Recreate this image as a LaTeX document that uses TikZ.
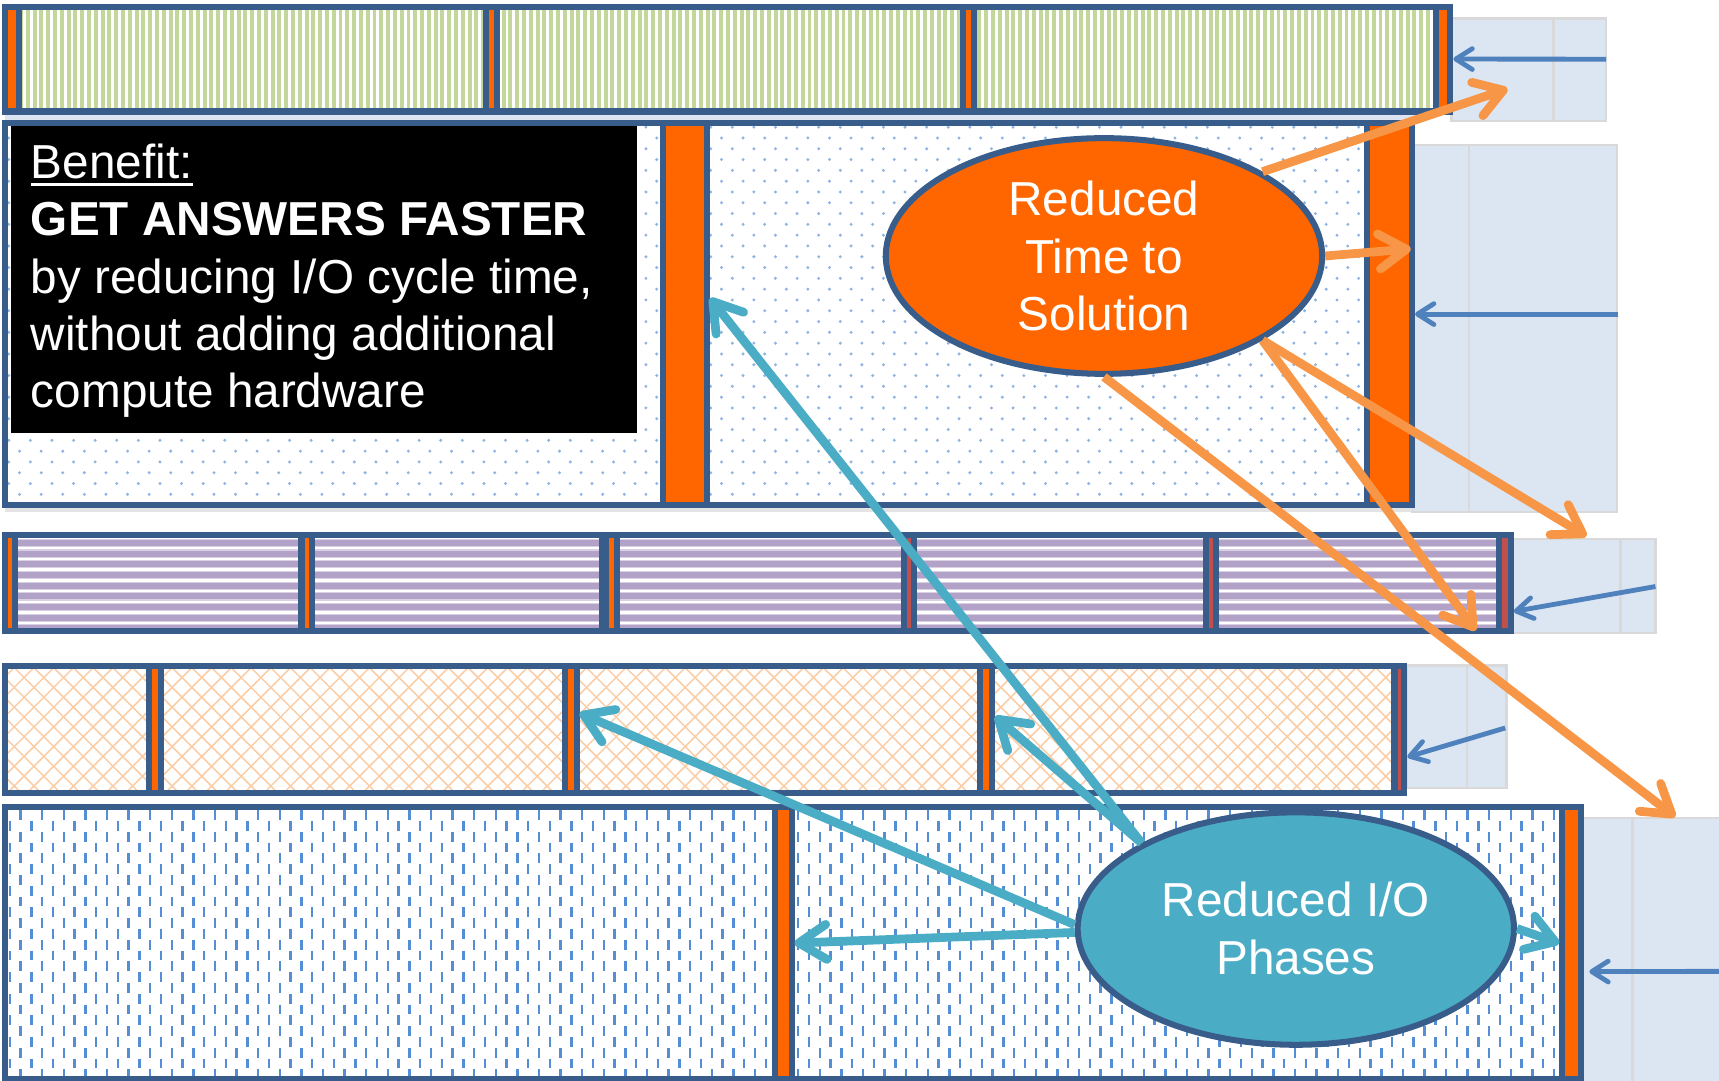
\documentclass[tikz,border=0pt]{standalone}
\usepackage{fontspec}
\setmainfont{Liberation Sans}
\usepackage{xcolor}
\usetikzlibrary{arrows.meta,shapes.geometric}
\definecolor{rowblue}{RGB}{56,93,138}
\definecolor{barorange}{RGB}{255,102,0}
\definecolor{barred}{RGB}{192,80,77}
\definecolor{arroworange}{RGB}{247,150,70}
\definecolor{arrowteal}{RGB}{75,172,198}
\definecolor{arrowblue}{RGB}{79,129,189}
\definecolor{extfill}{RGB}{220,230,242}
\definecolor{extline}{RGB}{217,217,217}
\definecolor{stripegreen}{RGB}{195,214,155}
\definecolor{stripepurple}{RGB}{179,162,199}
\definecolor{hatchorange}{RGB}{251,205,165}
\definecolor{dotblue}{RGB}{142,180,227}
\definecolor{dashblue}{RGB}{85,142,213}
\newcommand\benul[1]{\setbox0\hbox{#1}\rlap{\rule[-7pt]{\wd0}{2.6pt}}\box0}

\begin{document}
\begin{tikzpicture}[x=1pt,y=-1pt,
   cell/.style={draw=rowblue,line width=5.5pt},
   bar/.style={cell,fill=barorange,inner sep=0pt},
   ext/.style={fill=extfill,draw=extline,line width=2.2pt},
   bubble/.style={ellipse,draw=rowblue,line width=5.5pt,inner sep=0pt,text=white,
                  align=center,font=\fontsize{43.5}{52.3}\selectfont},
   oarrow/.style={draw=arroworange,line width=8pt,-{Straight Barb[length=25pt,width=32pt,round]}},
   tarrow/.style={draw=arrowteal,line width=8pt,-{Straight Barb[length=25pt,width=32pt,round]}},
   barrow/.style={draw=arrowblue,line width=4.4pt,-{Straight Barb[length=15pt,width=19pt,round]}}]
  \useasboundingbox (0,0) rectangle (1568,986);
  \clip (0,0) rectangle (1568,986);

  % cells to the right of each row
  \draw[ext] (1324,17) rectangle (1417,110.5);  \draw[ext] (1417,17) rectangle (1465,110.5);
  \draw[ext] (1288,132) rectangle (1340,467);   \draw[ext] (1340,132) rectangle (1475,467);
  \draw[ext] (1380,491.5) rectangle (1478,577.5); \draw[ext] (1478,491.5) rectangle (1510,577.5);
  \draw[ext] (1283,607) rectangle (1338,719);   \draw[ext] (1338,607) rectangle (1374,719);
  \draw[ext] (1444,746) rectangle (1489,992);   \draw[ext] (1489,746) rectangle (1580,992);
  \fill[extfill] (5,102) rectangle (1300,110);
  \fill[extline!70] (5,462) rectangle (1288,467);

  % row A, green stripes
  \begin{scope}
    \clip (5,6) rectangle (1323,101.7);
    \foreach \x in {5,11.2,...,1325}
      \fill[stripegreen] (\x,6) rectangle ++(3.6,96);
  \end{scope}
  \foreach \a/\b in {17/443,453/878,888/1310} \draw[cell] (\a,6) rectangle (\b,101.7);
  \foreach \a/\b [count=\i] in {5/17,443/453,878/888,1310/1323}
    \node[bar,minimum width=\b-\a,minimum height=95.7] (a\i) at ({(\a+\b)/2},53.85) {};

  % row B, dots
  \begin{scope}
    \clip (5,112) rectangle (1288,461);
    \foreach \y [count=\j] in {116,125.85,...,462}
      \foreach \x in {8,27.7,...,1290}
        \fill[dotblue] ({\x+mod(\j,2)*9.85},\y) circle (1.5);
  \end{scope}
  \foreach \a/\b in {5/605,645/1247} \draw[cell] (\a,112) rectangle (\b,461);
  \foreach \a/\b [count=\i] in {605/645,1247/1288}
    \node[bar,minimum width=\b-\a,minimum height=349] (b\i) at ({(\a+\b)/2},286.5) {};
  \fill[black] (10,114.5) rectangle (581,395);
  \node[anchor=north west,inner sep=0pt,align=left,text=white,
        font=\fontsize{43.5}{52.3}\selectfont] (benefit) at (28,131.2)
    {\benul{Benefit:}\\\textbf{GET ANSWERS FASTER}\\by reducing I/O cycle time,\\without adding additional\\compute hardware};

  % row C, purple stripes
  \begin{scope}
    \clip (5,488) rectangle (1378,575.5);
    \foreach \y in {485.5,495.25,...,582}
      {\fill[stripepurple!50] (5,\y-3.8) rectangle (1378,\y+3.8);
       \fill[stripepurple] (5,\y-2.8) rectangle (1378,\y+2.8);}
  \end{scope}
  \foreach \a/\b in {14/275,285/549,563/825,834/1100,1109/1367} \draw[cell] (\a,488) rectangle (\b,575.5);
  \foreach \a/\b/\c [count=\i] in {5/14/barorange,275/285/barorange,553/563/barorange,
                                  825/834/barred,1100/1109/barred,1367/1378/barred}
    \node[bar,fill=\c,minimum width=\b-\a,minimum height=87.5] (c\i) at ({(\a+\b)/2},531.75) {};

  % row D, diagonal cross hatch
  \begin{scope}
    \clip (5,607.5) rectangle (1281,723.5);
    \foreach \c in {-140,-122,...,1430}
      \draw[hatchorange,line width=1.4pt] (\c,600) -- ++(130,130) (\c,600) -- ++(-130,130);
  \end{scope}
  \foreach \a/\b in {5/136,147/515,526/894,905/1272} \draw[cell] (\a,607.5) rectangle (\b,723.5);
  \foreach \a/\b/\c [count=\i] in {136/147/barorange,515/526/barorange,894/905/barorange,1272/1281/barred}
    \node[bar,fill=\c,minimum width=\b-\a,minimum height=116] (d\i) at ({(\a+\b)/2},665.5) {};

  % row E, dashed vertical
  \begin{scope}
    \clip (5,736.5) rectangle (1442,984);
    \foreach \x [count=\i] in {9,18.85,...,1445}
      {\pgfmathsetmacro\ph{mod(\i,2)*9.85}
       \draw[dashblue,line width=2.2pt,dash pattern=on 9pt off 10.7pt,dash phase=\ph pt] (\x,739) -- (\x,990);}
  \end{scope}
  \foreach \a/\b in {5/707,722/1425} \draw[cell] (\a,736.5) rectangle (\b,984);
  \foreach \a/\b [count=\i] in {707/722,1425/1442}
    \node[bar,minimum width=\b-\a,minimum height=247.5] (e\i) at ({(\a+\b)/2},860.25) {};

  % labels
  \node[bubble,fill=barorange,minimum width=398,minimum height=215] (tts) at (1007,233.5)
    {Reduced\\Time to\\Solution};
  \node[bubble,fill=arrowteal,minimum width=398,minimum height=212] (rio) at (1182,847)
    {Reduced I/O\\Phases};

  \coordinate (ea) at (1465,54);
  \coordinate (eb) at (1476,286.5);
  \coordinate (ec) at (1510,535);
  \coordinate (ed) at (1373,664);
  \coordinate (ee) at (1568,886);
  \coordinate (oa) at (1375,81);
  \coordinate (oc) at (1447,489);
  \coordinate (od) at (1346,575);
  \coordinate (oe) at (1528,745);

  \draw[barrow] (ea) -- (a4.east);
  \draw[barrow] (eb) -- (b2.east);
  \draw[barrow] (ec) -- ([yshift=-26pt]c6.east);
  \draw[barrow] (ed) -- ([yshift=-25pt]d4.east);
  \draw[barrow] (ee) -- ([xshift=5pt,yshift=-26pt]e2.east);

  \draw[oarrow] (tts.28) -- (oa);
  \draw[oarrow] (tts.east) -- ([xshift=-4pt,yshift=59.5pt]b2.east);
  \draw[oarrow] (tts.332) -- (oc);
  \draw[oarrow] (tts.332) -- (od);
  \draw[oarrow] (tts.south) -- (oe);

  \draw[tarrow] (rio.151) -- ([yshift=14.5pt]b1.east);
  \draw[tarrow] (rio.151) -- ([yshift=12pt]d3.east);
  \draw[tarrow] (rio.179) -- ([yshift=15pt]d2.east);
  \draw[tarrow] (rio.181) -- (e1.east);
  \draw[tarrow] (rio.east) -- (e2.west);
\end{tikzpicture}
\end{document}
